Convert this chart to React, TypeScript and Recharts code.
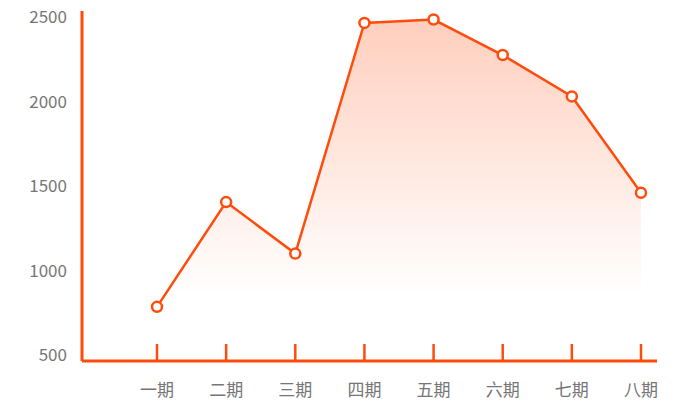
import { AreaChart, Area, XAxis, YAxis } from 'recharts'

const periods = ['一期', '二期', '三期', '四期', '五期', '六期', '七期', '八期']
const values = [785, 1405, 1100, 2465, 2485, 2275, 2030, 1460]
const yTicks = [500, 1000, 1500, 2000, 2500]

const ORANGE = '#ff4c0c'
const TEXT = '#767676'
const FONT = '"Noto Sans CJK SC", "Noto Sans", sans-serif'

const data = periods.map((name, i) => ({ name, value: values[i] }))

function PeriodTick(props: any) {
  const { x, y, payload } = props
  return (
    <g>
      <line x1={x} y1={y} x2={x} y2={y - 17} stroke={ORANGE} strokeWidth={2.5} />
      <text x={x} y={y + 29} dy="0.355em" textAnchor="middle" fill={TEXT} fontSize={17} fontFamily={FONT}>
        {payload.value}
      </text>
    </g>
  )
}

export default function App() {
  return (
    <div style={{ position: 'absolute', left: 0, top: 0, width: 677, height: 404 }}>
      <AreaChart width={677} height={404} data={data} margin={{ top: 11, right: 20, bottom: 13, left: 8 }}>
        <defs>
          <linearGradient id="fade" x1="0" y1="0" x2="0" y2="1">
            <stop offset="0%" stopColor={ORANGE} stopOpacity={0.27} />
            <stop offset="82%" stopColor={ORANGE} stopOpacity={0} />
          </linearGradient>
        </defs>
        <XAxis
          dataKey="name"
          axisLine={{ stroke: ORANGE, strokeWidth: 3 }}
          tickLine={false}
          tickSize={0}
          tickMargin={0}
          height={30}
          padding={{ left: 75, right: 16 }}
          tick={<PeriodTick />}
          interval={0}
        />
        <YAxis
          domain={[500, 2500]}
          ticks={yTicks}
          width={74}
          axisLine={{ stroke: ORANGE, strokeWidth: 3 }}
          tickLine={false}
          tickSize={0}
          tickMargin={15}
          padding={{ top: 6, bottom: 6 }}
          tick={{ fill: TEXT, fontSize: 17, fontFamily: FONT }}
        />
        <Area
          type="linear"
          dataKey="value"
          stroke={ORANGE}
          strokeWidth={2.5}
          fill="url(#fade)"
          fillOpacity={1}
          baseValue="dataMin"
          dot={{ r: 5, fill: '#fff', stroke: ORANGE, strokeWidth: 2.5 }}
          activeDot={false}
          isAnimationActive={false}
        />
      </AreaChart>
    </div>
  )
}
